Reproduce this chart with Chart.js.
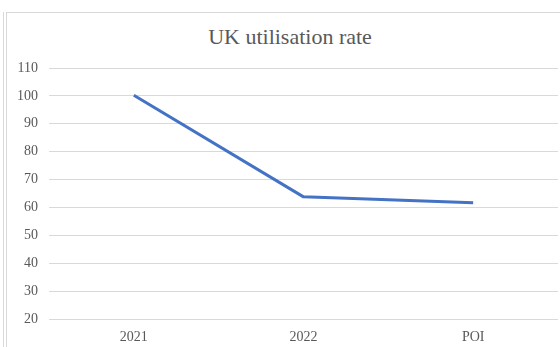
<!DOCTYPE html>
<html>
<head>
<meta charset="utf-8">
<script src="https://cdn.jsdelivr.net/npm/chart.js@4"></script>
<style>
  html, body { margin: 0; padding: 0; background: #fff; }
  .wrap { position: relative; width: 560px; height: 347px; overflow: hidden; }
  .edge-outer { position: absolute; left: 3px; top: 12px; bottom: 0; border-left: 1px solid #d9d9d9; }
  .edge-inner { position: absolute; left: 6px; top: 12px; right: 0; bottom: 0;
                border-left: 1px solid #d9d9d9; border-top: 1px solid #d9d9d9; }
  .title { position: absolute; left: 0; width: 580px; top: 24px; text-align: center;
           font: 22px/26px 'Liberation Serif', 'Times New Roman', serif; color: #595959; }
  canvas { position: absolute; left: 0; top: 0; }
</style>
</head>
<body>
<div class="wrap">
  <div class="edge-outer"></div>
  <div class="edge-inner"></div>
  <div class="title">UK utilisation rate</div>
  <canvas id="chart" width="560" height="347"></canvas>
</div>
<script>
// utilisation rate by period
const categories = ['2021', '2022', 'POI'];
const utilisation = [100.2, 63.8, 61.7];
const yMin = 20;
const yMax = 110;
const yStep = 10;

const serif = "'Liberation Serif', 'Times New Roman', serif";
const textColor = '#595959';

new Chart(document.getElementById('chart'), {
  type: 'line',
  data: {
    labels: categories,
    datasets: [{
      label: 'UK utilisation rate',
      data: utilisation,
      borderColor: '#4472C4',
      borderWidth: 3,
      tension: 0,
      pointRadius: 0,
      borderJoinStyle: 'round',
      fill: false
    }]
  },
  options: {
    responsive: false,
    animation: false,
    // title sits in the page above; leave room for it at the top
    layout: { padding: { left: 0, right: 2, top: 68, bottom: 0 } },
    plugins: {
      legend: { display: false },
      tooltip: { enabled: false },
      title: { display: false }
    },
    scales: {
      x: {
        offset: true,
        grid: { display: false, drawTicks: false },
        border: { display: false },
        ticks: { color: textColor, font: { family: serif, size: 14 }, padding: 10, maxRotation: 0 },
        afterFit: s => { s.height = 28; }
      },
      y: {
        min: yMin,
        max: yMax,
        grid: { color: '#d9d9d9', lineWidth: 1, drawTicks: false, tickLength: 0 },
        border: { display: false },
        ticks: { stepSize: yStep, color: textColor, font: { family: serif, size: 14 }, padding: 11 },
        afterFit: s => { s.width = 49; }
      }
    }
  }
});
</script>
</body>
</html>
